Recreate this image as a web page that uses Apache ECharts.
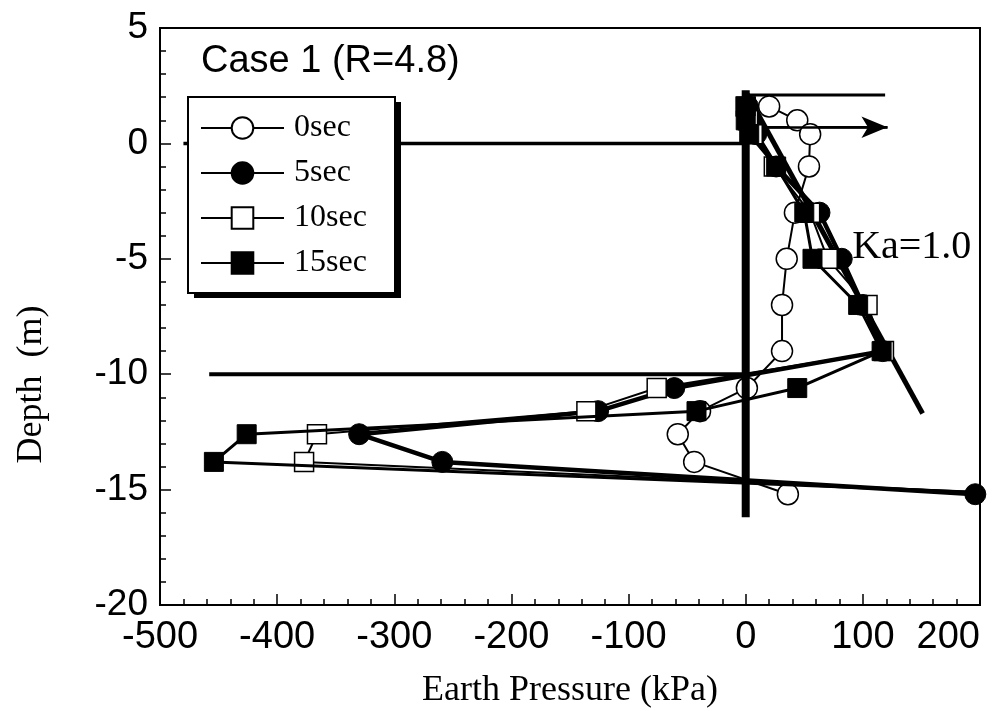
<!DOCTYPE html>
<html>
<head>
<meta charset="utf-8">
<script src="https://cdn.jsdelivr.net/npm/echarts@6/dist/echarts.min.js"></script>
<style>
  html, body { margin: 0; padding: 0; background: #fff; }
  #main { width: 1006px; height: 711px; }
</style>
</head>
<body>
<div id="main"></div>
<script>
// depths of the pressure cells (m)
var depths = [1.6, 1.0, 0.4, -1, -3, -5, -7, -9, -10.6, -11.6, -12.6, -13.8, -15.2];
// earth pressure (kPa) at each depth
var p0sec  = [20, 44, 55, 54, 42, 35, 31, 31, 1, -39, -58, -44, 36];
var p5sec  = [2, 5, 9, 26, 63, 82, 100, 117, -61, -126, -330, -259, 196];
var p10sec = [0, 2, 6, 24, 55, 70, 104, 118, -76, -136, -366, -377, 240];
var p15sec = [0, 0, 3, 26, 50, 57, 96, 116, 44, -42, -426, -454, 240];

// Ka=1.0 line and structure outline
var kaLine = [[1, 2.15], [151, -11.7]];
var wall = [[0, 2.3], [0, -16.2]];
var groundLine = [[-480, 0], [0, 0]];
var levelLine = [[-458, -10], [0, -10]];
var topLine = [[0, 2.1], [119, 2.1]];
var arrowLine = [[12, 0.7], [121, 0.7]];

var xTicks = { min: -500, max: 200, interval: 100 };
var yTicks = { min: -20, max: 5, interval: 5 };

function pairs(xs) {
    return xs.map(function (x, i) { return [x, depths[i]]; });
}

var chart = echarts.init(document.getElementById('main'));

function plain(data, width) {
    return {
        type: 'line', data: data, symbol: 'none', silent: true,
        lineStyle: { color: '#000', width: width }, z: 1
    };
}

var option = {
    animation: false,
    backgroundColor: '#fff',
    title: {
        text: 'Case 1 (R=4.8)',
        left: 196, top: 38,
        textStyle: { fontFamily: 'Liberation Sans', fontSize: 38, fontWeight: 'normal', color: '#000' }
    },
    grid: {
        left: 160, right: 26, top: 28, bottom: 106,
        outerBoundsMode: 'none', containLabel: false,
        show: true, borderColor: '#000', borderWidth: 2
    },
    // legend frame with its drop shadow
    graphic: [
        { type: 'rect', z: 8, shape: { x: 194, y: 102, width: 207, height: 196 }, style: { fill: '#000' } },
        { type: 'rect', z: 9, shape: { x: 188, y: 97, width: 207, height: 196 }, style: { fill: '#fff', stroke: '#000', lineWidth: 2 } }
    ],
    legend: {
        data: ['0sec', '5sec', '10sec', '15sec'],
        orient: 'vertical',
        left: 200, top: 112, z: 10,
        itemWidth: 83, itemHeight: 27, itemGap: 13,
        padding: 0,
        lineStyle: { width: 2, color: '#000' },
        textStyle: { fontFamily: 'Liberation Serif', fontSize: 32, color: '#000', padding: [0, 0, 0, 5] }
    },
    xAxis: {
        type: 'value',
        min: xTicks.min, max: xTicks.max, interval: xTicks.interval,
        name: 'Earth Pressure (kPa)',
        nameLocation: 'middle', nameGap: 68,
        nameTextStyle: { fontFamily: 'Liberation Serif', fontSize: 36, color: '#000' },
        axisLine: { onZero: false, lineStyle: { color: '#000', width: 2 } },
        axisTick: { inside: true, length: 11, lineStyle: { color: '#000', width: 1.5 } },
        minorTick: { show: true, splitNumber: 5, length: 6, lineStyle: { color: '#000', width: 1.5 } },
        splitLine: { show: false },
        axisLabel: { fontFamily: 'Liberation Sans', fontSize: 38, color: '#000', margin: 14, alignMaxLabel: 'right' }
    },
    yAxis: {
        type: 'value',
        min: yTicks.min, max: yTicks.max, interval: yTicks.interval,
        name: 'Depth  (m)',
        nameLocation: 'middle', nameGap: 110,
        nameTextStyle: { fontFamily: 'Liberation Serif', fontSize: 36, color: '#000', padding: [0, 136, 0, 0] },
        axisLine: { onZero: false, lineStyle: { color: '#000', width: 2 } },
        axisTick: { inside: true, length: 11, lineStyle: { color: '#000', width: 1.5 } },
        minorTick: { show: true, splitNumber: 5, length: 6, lineStyle: { color: '#000', width: 1.5 } },
        splitLine: { show: false },
        axisLabel: { fontFamily: 'Liberation Sans', fontSize: 37, color: '#000', margin: 12 }
    },
    series: [
        plain(groundLine, 3.5),
        plain(levelLine, 4),
        plain(topLine, 3),
        {
            type: 'line', data: arrowLine, symbol: 'none', silent: true,
            lineStyle: { color: '#000', width: 2.5 }, z: 1,
            markLine: {
                silent: true, symbol: ['none', 'arrow'], symbolSize: [16, 26],
                label: { show: false },
                lineStyle: { color: '#000', width: 2.5, type: 'solid' },
                data: [[{ coord: arrowLine[0] }, { coord: arrowLine[1] }]]
            }
        },
        {
            type: 'line', data: kaLine, symbol: 'none', silent: true,
            lineStyle: { color: '#000', width: 5 }, z: 1,
            markPoint: {
                symbol: 'circle', symbolSize: 0,
                label: {
                    show: true, position: 'right', formatter: 'Ka=1.0', offset: [-4, 0],
                    fontFamily: 'Liberation Serif', fontSize: 40, color: '#000'
                },
                data: [{ coord: [90, -4.5] }]
            }
        },
        {
            name: '0sec', type: 'line', data: pairs(p0sec),
            symbol: 'circle', symbolSize: 21,
            lineStyle: { color: '#000', width: 2 },
            itemStyle: { color: '#fff', borderColor: '#000', borderWidth: 1.5 }, z: 3
        },
        {
            name: '5sec', type: 'line', data: pairs(p5sec),
            symbol: 'circle', symbolSize: 21,
            lineStyle: { color: '#000', width: 4.5 },
            itemStyle: { color: '#000', borderColor: '#000', borderWidth: 1 }, z: 4
        },
        {
            name: '10sec', type: 'line', data: pairs(p10sec),
            symbol: 'rect', symbolSize: 19,
            lineStyle: { color: '#000', width: 2 },
            itemStyle: { color: '#fff', borderColor: '#000', borderWidth: 1.5 }, z: 5
        },
        {
            name: '15sec', type: 'line', data: pairs(p15sec),
            symbol: 'rect', symbolSize: 19,
            lineStyle: { color: '#000', width: 3 },
            itemStyle: { color: '#000', borderColor: '#000', borderWidth: 1 }, z: 6
        },
        plain(wall, 8)
    ]
};
option.series[option.series.length - 1].z = 7;

chart.setOption(option);
</script>
</body>
</html>
